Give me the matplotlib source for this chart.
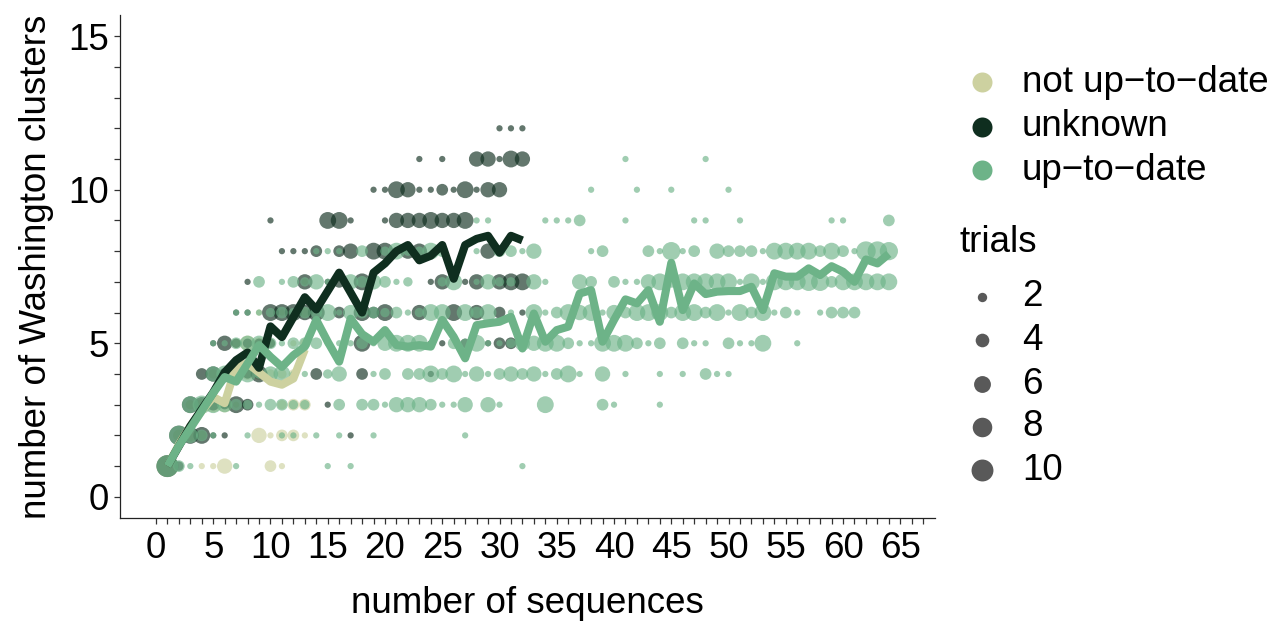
import matplotlib
matplotlib.use('Agg')
import matplotlib.pyplot as plt
from matplotlib.ticker import FixedLocator
import numpy as np

plt.rcParams['font.family'] = ['Liberation Sans', 'DejaVu Sans']

# ---------------- data ----------------
categories = ['not up\u2212to\u2212date', 'unknown', 'up\u2212to\u2212date']
colors = ['#CDD1A0', '#0F2E1F', '#6DB388']

# cluster count -> [(number of sequences, trials), ...]
not_up_to_date_points = {
    1: [(1, 10), (4, 1), (5, 1), (6, 5), (10, 3), (11, 1)],
    2: [(2, 3), (3, 3), (4, 2), (9, 5), (10, 1), (11, 3), (12, 3), (13, 1)],
    3: [(3, 2), (4, 3), (5, 5), (6, 5), (7, 1), (11, 2), (12, 3), (13, 3)],
    4: [(5, 2), (6, 1), (7, 5), (8, 3), (9, 3), (10, 2), (11, 2), (12, 2)],
    5: [(7, 2), (8, 5), (9, 3), (10, 2), (12, 1), (13, 2)],
    6: [(9, 1), (11, 1), (13, 2)],
    7: [(13, 1)],
}

unknown_points = {
    1: [(1, 10), (2, 2)],
    2: [(2, 8), (3, 6), (4, 6), (5, 1), (6, 1), (17, 1)],
    3: [(3, 6), (4, 5), (5, 3), (6, 2), (7, 6), (8, 3), (15, 1)],
    4: [(4, 3), (5, 5), (6, 3), (7, 3), (8, 2), (9, 6), (14, 3), (18, 3), (24, 1)],
    5: [(5, 1), (6, 5), (7, 2), (8, 2), (9, 2), (10, 2), (18, 6), (24, 1), (25, 1),
        (27, 2), (29, 1), (30, 3), (31, 3)],
    6: [(7, 1), (8, 1), (10, 6), (11, 6), (12, 6), (13, 5), (14, 6), (16, 3), (18, 6),
        (19, 3), (20, 6), (23, 5), (26, 6), (28, 5), (30, 3), (32, 1)],
    7: [(8, 1), (13, 5), (15, 1), (16, 3), (18, 6), (24, 1), (25, 5), (27, 1), (28, 5),
        (30, 5), (31, 6), (32, 6)],
    8: [(11, 1), (12, 1), (13, 1), (14, 3), (16, 3), (17, 5), (19, 6), (20, 6), (22, 5),
        (23, 5), (29, 5)],
    9: [(10, 1), (15, 6), (16, 6), (17, 1), (20, 1), (21, 5), (22, 5), (23, 5), (24, 6),
        (25, 5), (26, 5), (27, 6)],
    10: [(19, 1), (20, 1), (21, 6), (22, 5), (23, 1), (24, 1), (25, 3), (26, 1), (27, 6),
         (28, 1), (29, 5), (30, 5)],
    11: [(23, 1), (25, 1), (28, 5), (29, 5), (30, 1), (31, 6), (32, 5)],
    12: [(30, 1), (31, 1), (32, 1)],
}

up_to_date_points = {
    1: [(1, 10), (2, 3), (3, 1), (7, 1), (15, 1), (17, 1), (32, 1)],
    2: [(2, 8), (3, 5), (4, 3), (5, 1), (8, 1), (11, 1), (12, 1), (14, 1), (16, 1),
        (19, 1), (27, 1)],
    3: [(3, 6), (4, 7), (5, 6), (6, 5), (7, 3), (8, 2), (9, 1), (10, 3), (11, 3), (12, 2),
        (13, 2), (16, 3), (18, 3), (19, 3), (20, 1), (21, 5), (22, 5), (23, 5), (24, 3),
        (25, 1), (26, 1), (27, 5), (29, 5), (30, 1), (34, 6), (39, 3), (40, 1), (44, 1)],
    4: [(5, 5), (6, 6), (7, 3), (8, 6), (9, 2), (10, 5), (11, 6), (12, 1), (13, 1), (15, 2),
        (16, 5), (19, 1), (20, 3), (22, 3), (23, 3), (24, 6), (25, 3), (26, 6), (27, 1),
        (28, 5), (29, 1), (30, 3), (31, 5), (32, 3), (33, 5), (34, 1), (35, 3), (36, 6),
        (37, 1), (39, 5), (41, 1), (44, 1), (46, 1), (48, 3), (49, 1), (50, 1)],
    5: [(5, 1), (6, 1), (7, 3), (8, 5), (9, 5), (10, 3), (11, 1), (12, 3), (13, 3), (14, 3),
        (15, 1), (16, 1), (17, 1), (18, 3), (19, 1), (20, 5), (21, 6), (22, 6), (23, 6),
        (24, 1), (26, 3), (27, 2), (28, 6), (29, 1), (30, 1), (31, 2), (32, 5), (33, 5),
        (34, 6), (35, 6), (36, 3), (37, 1), (38, 1), (39, 6), (40, 6), (41, 6), (42, 3),
        (43, 1), (44, 3), (46, 3), (47, 1), (48, 1), (50, 3), (51, 1), (52, 1), (53, 6),
        (56, 1)],
    6: [(7, 1), (8, 1), (9, 1), (10, 2), (11, 3), (12, 2), (13, 3), (14, 3), (15, 6),
        (16, 1), (17, 5), (18, 3), (19, 3), (20, 2), (21, 3), (22, 1), (23, 2), (24, 6),
        (25, 6), (27, 6), (28, 3), (29, 6), (31, 1), (33, 6), (34, 1), (35, 3), (36, 6),
        (37, 5), (38, 6), (39, 1), (40, 5), (41, 3), (42, 6), (43, 6), (44, 6), (45, 3),
        (46, 6), (47, 6), (48, 3), (49, 6), (50, 1), (51, 6), (52, 3), (53, 6), (54, 1),
        (55, 3), (56, 1), (58, 1), (59, 3), (60, 3), (61, 3)],
    7: [(9, 3), (11, 1), (12, 3), (13, 2), (14, 5), (15, 1), (17, 5), (18, 3), (19, 5),
        (20, 3), (21, 1), (22, 2), (25, 2), (26, 6), (28, 1), (29, 5), (30, 2), (31, 2),
        (33, 5), (34, 1), (37, 5), (38, 3), (40, 3), (41, 1), (42, 1), (43, 5), (44, 6),
        (45, 3), (46, 6), (47, 6), (48, 6), (49, 6), (50, 6), (51, 1), (52, 6), (53, 1),
        (54, 6), (55, 6), (56, 6), (57, 7), (58, 7), (59, 3), (60, 6), (61, 6), (62, 6),
        (63, 6), (64, 6)],
    8: [(14, 1), (15, 1), (16, 1), (18, 3), (20, 2), (21, 6), (22, 2), (23, 2), (24, 6),
        (25, 3), (28, 1), (30, 3), (31, 3), (32, 1), (33, 5), (38, 1), (39, 3), (43, 3),
        (44, 1), (45, 7), (46, 1), (47, 3), (49, 5), (50, 3), (51, 3), (52, 3), (53, 1),
        (54, 6), (55, 6), (56, 6), (57, 6), (58, 3), (59, 6), (60, 3), (61, 1), (62, 8),
        (63, 8), (64, 7)],
    9: [(28, 1), (29, 1), (34, 1), (35, 1), (36, 1), (37, 3), (41, 1), (47, 1), (48, 1),
        (51, 1), (59, 1), (60, 1), (64, 3)],
    10: [(38, 1), (42, 1), (45, 1), (50, 1)],
    11: [(41, 1), (48, 1)],
}

# mean number of clusters per number of sequences (n = 1, 2, ...)
not_up_to_date_mean = [1.0, 1.7, 2.3, 2.8, 3.25, 3.05, 4.25, 4.35, 4.05, 3.75, 3.65,
                       3.85, 4.8]
unknown_mean = [1.0, 1.65, 2.3, 2.85, 3.4, 4.05, 4.45, 4.7, 4.2, 5.55, 5.2, 5.85, 6.5,
                6.1, 6.7, 7.3, 6.65, 6.0, 7.3, 7.6, 8.0, 8.2, 7.7, 7.85, 8.2, 7.1, 8.2,
                8.4, 8.5, 7.95, 8.5, 8.35]
up_to_date_mean = [1.0, 1.66, 2.23, 2.8, 3.38, 3.9, 3.75, 4.34, 4.94, 4.56, 4.23, 4.61,
                   4.89, 5.76, 5.05, 4.4, 5.8, 5.3, 5.05, 5.43, 4.94, 4.89, 4.94, 4.89,
                   5.76, 5.21, 4.51, 5.59, 5.65, 5.7, 5.86, 4.83, 5.97, 5.05, 5.43, 5.54,
                   6.62, 6.73, 5.05, 5.76, 6.43, 6.3, 6.73, 5.7, 7.62, 6.08, 6.95, 6.6,
                   6.68, 6.7, 6.7, 6.84, 6.08, 7.28, 7.17, 7.17, 7.44, 7.22, 7.51, 7.33,
                   7.0, 7.73, 7.6, 7.91]

size_breaks = [2, 4, 6, 8, 10]

x_label = 'number of sequences'
y_label = 'number of Washington clusters'
size_title = 'trials'

FS = 26.5


def marker_area(trials):
    t = np.asarray(trials, dtype=float)
    return 0.5184 * (49.0 * t - 10.0)


# ---------------- figure ----------------
W, H = 1273, 623
fig = plt.figure(figsize=(W / 100, H / 100), dpi=100)
ax = fig.add_axes([120 / W, 1 - 518 / H, (935 - 120) / W, (518 - 15) / H])

ALPHA = 0.65
all_points = [not_up_to_date_points, unknown_points, up_to_date_points]
for pts, col in zip(all_points, colors):
    xs, ys, ts = [], [], []
    for yv, row in pts.items():
        for n, t in row:
            xs.append(n)
            ys.append(yv)
            ts.append(t)
    ax.scatter(xs, ys, s=marker_area(ts), c=col, alpha=ALPHA, linewidths=0, zorder=2)

all_means = [not_up_to_date_mean, unknown_mean, up_to_date_mean]
for means, col in zip(all_means, colors):
    n = np.arange(1, len(means) + 1)
    ax.plot(n, means, color=col, lw=5.8, solid_joinstyle='round',
            solid_capstyle='butt', zorder=3)

ax.set_xlim(-3.14, 68.03)
ax.set_ylim(-0.69, 15.69)
ax.set_xticks(np.arange(0, 66, 5))
ax.set_yticks(np.arange(0, 16, 5))
ax.xaxis.set_minor_locator(FixedLocator([v for v in range(0, 68) if v % 5]))
ax.yaxis.set_minor_locator(FixedLocator([v for v in range(0, 16) if v % 5]))

for side in ['top', 'right']:
    ax.spines[side].set_visible(False)
for side in ['left', 'bottom']:
    ax.spines[side].set_linewidth(0.9)
    ax.spines[side].set_color('#222222')

ax.tick_params(which='both', direction='out', length=4, width=0.9, color='#333333')
ax.tick_params(axis='x', which='major', labelsize=FS, pad=5)
ax.tick_params(axis='y', which='major', labelsize=FS, pad=4)

ax.set_xlabel(x_label, fontsize=FS)
ax.set_ylabel(y_label, fontsize=FS)
ax.xaxis.set_label_coords(0.5, (518 - 586) / 503)
ax.yaxis.set_label_coords((54 - 120) / 815, 0.5)

# ---------------- legends ----------------
lax = fig.add_axes([0, 0, 1, 1], zorder=5)
lax.set_xlim(0, W)
lax.set_ylim(H, 0)
lax.axis('off')

color_rows = [82, 127, 170]
for yv, lab, col in zip(color_rows, categories, colors):
    lax.scatter([982], [yv], s=(20 * 0.72) ** 2, c=col, linewidths=0)
    lax.text(1022, yv, lab, fontsize=FS, va='center', ha='left')

lax.text(960, 243, size_title, fontsize=FS, va='center', ha='left')
size_rows = [297, 340, 384, 427, 470]
for yv, b in zip(size_rows, size_breaks):
    lax.scatter([982], [yv], s=marker_area(b), c='black', alpha=ALPHA, linewidths=0)
    lax.text(1022, yv, str(b), fontsize=FS, va='center', ha='left')

fig.savefig('out.png', dpi=100)
